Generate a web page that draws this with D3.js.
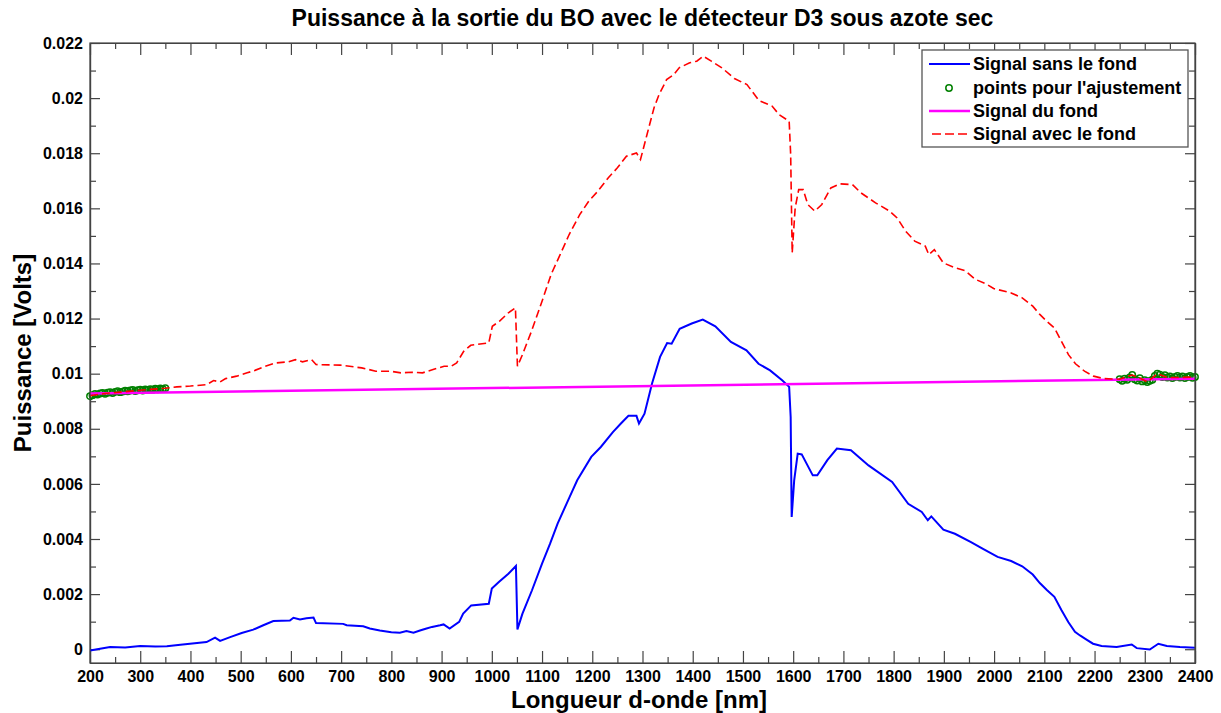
<!DOCTYPE html>
<html>
<head>
<meta charset="utf-8">
<script src="https://cdn.jsdelivr.net/npm/d3@7"></script>
<style>
  body { margin: 0; background: #fff; }
  text { font-family: "Liberation Sans", Arial, sans-serif; font-weight: bold; fill: #000; }
</style>
</head>
<body>
<div id="chart"></div>
<script>

// Data: [wavelength nm, power V]

let signalSansFond = [
  [200,-0.00005],[220,0.00002],[240,0.00008],[270,0.00006],[300,0.00012],[330,0.00010],[353,0.00011],
  [380,0.00016],[399,0.00020],[432,0.00026],[449,0.00042],[459,0.00030],[479,0.00044],[502,0.00059],
  [525,0.00071],[545,0.00087],[565,0.00102],[598,0.00104],[605,0.00114],[618,0.00108],[631,0.00112],
  [645,0.00115],[650,0.00095],[704,0.00092],[711,0.00087],[744,0.00083],[757,0.00075],[777,0.00068],
  [800,0.00062],[817,0.00060],[830,0.00066],[844,0.00060],[857,0.00068],[870,0.00075],[881,0.00081],
  [897,0.00087],[904,0.00090],[916,0.00075],[935,0.00099],[943,0.00129],[959,0.00159],[994,0.00165],
  [1000,0.00220],[1014,0.00244],[1033,0.00274],[1048,0.00302],[1051,0.00072],[1061,0.00129],
  [1080,0.00214],[1100,0.00311],[1116,0.00383],[1131,0.00456],[1155,0.00553],[1170,0.00613],
  [1198,0.00698],[1217,0.00734],[1241,0.00788],[1257,0.00819],[1272,0.00847],[1288,0.00847],
  [1293,0.00819],[1304,0.00855],[1319,0.00964],[1335,0.01061],[1349,0.01111],[1358,0.01109],
  [1374,0.01163],[1398,0.01182],[1420,0.01196],[1445,0.01172],[1476,0.01115],[1507,0.01085],
  [1531,0.01036],[1554,0.01012],[1578,0.00976],[1592,0.00952],[1595,0.00843],[1597,0.00480],
  [1602,0.00613],[1609,0.00710],[1617,0.00707],[1639,0.00631],[1648,0.00631],[1668,0.00686],
  [1687,0.00728],[1715,0.00722],[1750,0.00667],[1797,0.00607],[1829,0.00528],[1856,0.00498],
  [1868,0.00468],[1875,0.00482],[1899,0.00434],[1922,0.00419],[1954,0.00389],[1977,0.00365],
  [2007,0.00335],[2034,0.00320],[2056,0.00301],[2077,0.00271],[2091,0.00240],[2105,0.00215],
  [2120,0.00190],[2134,0.00142],[2148,0.00098],[2161,0.00063],[2171,0.00050],[2184,0.00035],
  [2197,0.00020],[2214,0.00012],[2244,0.00008],[2274,0.00017],[2284,0.00004],[2310,-0.00001],
  [2327,0.00020],[2344,0.00012],[2370,0.00008],[2400,0.00005]
];

let signalAvecFond = [
  [200,0.00920],[230,0.00928],[260,0.00933],[290,0.00938],[320,0.00943],[350,0.00947],[373,0.00952],
  [400,0.00955],[432,0.00960],[446,0.00975],[459,0.00970],[470,0.00982],[492,0.00991],[513,0.01003],
  [527,0.01011],[549,0.01027],[570,0.01039],[595,0.01043],[609,0.01051],[623,0.01043],[641,0.01051],
  [650,0.01033],[698,0.01031],[741,0.01021],[769,0.01009],[798,0.01009],[819,0.01003],[841,0.01005],
  [862,0.01003],[883,0.01015],[905,0.01027],[919,0.01027],[930,0.01039],[944,0.01081],[958,0.01103],
  [994,0.01112],[1001,0.01172],[1015,0.01190],[1033,0.01221],[1047,0.01239],[1051,0.01027],
  [1061,0.01069],[1079,0.01154],[1100,0.01263],[1118,0.01360],[1136,0.01432],[1154,0.01505],
  [1175,0.01577],[1193,0.01626],[1211,0.01662],[1232,0.01711],[1250,0.01747],[1268,0.01789],
  [1288,0.01801],[1296,0.01777],[1309,0.01868],[1323,0.01965],[1333,0.02013],[1348,0.02067],
  [1362,0.02085],[1373,0.02110],[1380,0.02116],[1394,0.02128],[1408,0.02134],[1421,0.02152],
  [1437,0.02134],[1458,0.02110],[1483,0.02071],[1508,0.02049],[1532,0.01991],[1558,0.01971],
  [1572,0.01940],[1592,0.01916],[1595,0.01795],[1598,0.01438],[1604,0.01602],[1611,0.01668],
  [1620,0.01668],[1629,0.01614],[1643,0.01590],[1657,0.01614],[1675,0.01674],[1693,0.01689],
  [1718,0.01686],[1735,0.01656],[1764,0.01620],[1792,0.01590],[1807,0.01565],[1824,0.01517],
  [1842,0.01481],[1863,0.01463],[1870,0.01432],[1881,0.01450],[1899,0.01402],[1920,0.01386],
  [1942,0.01374],[1963,0.01342],[1984,0.01326],[1999,0.01309],[2034,0.01293],[2056,0.01275],
  [2077,0.01245],[2091,0.01215],[2105,0.01190],[2120,0.01166],[2134,0.01118],[2148,0.01069],
  [2162,0.01036],[2180,0.01009],[2198,0.00991],[2219,0.00982],[2250,0.00980],[2275,0.00995],
  [2290,0.00984],[2305,0.00970],[2325,0.01000],[2345,0.00986],[2370,0.00986],[2400,0.00988]
];

// points used for the background fit (both ends of the spectrum)
let pointsAjustement = [
  [200,0.00918],[205,0.00922],[210,0.00926],[215,0.00924],[220,0.00928],[225,0.00930],[230,0.00927],
  [235,0.00931],[240,0.00933],[245,0.00930],[250,0.00934],[255,0.00936],[260,0.00933],[265,0.00935],
  [270,0.00938],[275,0.00936],[280,0.00939],[285,0.00941],[290,0.00937],[295,0.00940],[300,0.00942],
  [305,0.00939],[310,0.00943],[315,0.00941],[320,0.00944],[325,0.00942],[330,0.00945],[335,0.00943],
  [340,0.00946],[345,0.00944],[350,0.00947],
  [2250,0.00980],[2255,0.00974],[2260,0.00982],[2265,0.00978],[2270,0.00986],[2275,0.00995],
  [2280,0.00980],[2285,0.00975],[2290,0.00984],[2295,0.00972],[2300,0.00976],[2305,0.00970],
  [2310,0.00974],[2315,0.00978],[2320,0.00992],[2325,0.01000],[2330,0.00996],[2335,0.00988],
  [2340,0.00994],[2345,0.00986],[2350,0.00990],[2355,0.00984],[2360,0.00988],[2365,0.00992],
  [2370,0.00986],[2375,0.00990],[2380,0.00984],[2385,0.00988],[2390,0.00992],[2395,0.00985],
  [2400,0.00988]
];

let signalFond = [[200,0.00928],[2400,0.00982]];

let xTicks = [200,300,400,500,600,700,800,900,1000,1100,1200,1300,1400,1500,1600,1700,1800,1900,2000,2100,2200,2300,2400];
let yTicks = [0,0.002,0.004,0.006,0.008,0.01,0.012,0.014,0.016,0.018,0.02,0.022];
let yTickLabels = ["0","0.002","0.004","0.006","0.008","0.01","0.012","0.014","0.016","0.018","0.02","0.022"];
let xMinorTicks = d3.range(250, 2400, 100);
let yMinorTicks = d3.range(0.001, 0.022, 0.002);

let legendLabels = ["Signal sans le fond", "points pour l'ajustement", "Signal du fond", "Signal avec le fond"];

// SVG area
let svgWidth = 1221;
let svgHeight = 713;

let chartMargin = { top: 43, right: 26, bottom: 50, left: 90 };

let chartWidth = svgWidth - chartMargin.left - chartMargin.right;
let chartHeight = svgHeight - chartMargin.top - chartMargin.bottom;

let svg = d3.select("#chart")
  .append("svg")
  .attr("width", svgWidth)
  .attr("height", svgHeight);

let chartGroup = svg.append("g")
  .attr("transform", `translate(${chartMargin.left}, ${chartMargin.top})`);

// scales
let xScale = d3.scaleLinear().domain([200, 2400]).range([0, chartWidth]);
let yScale = d3.scaleLinear().domain([-0.0005, 0.022]).range([chartHeight, 0]);

// axes, ticks pointing inward (MATLAB box style)
let axisColor = "#444";

function styleAxis(g) {
  g.selectAll("path").attr("stroke", axisColor).attr("stroke-width", 1.2);
  g.selectAll("line").attr("stroke", axisColor).attr("stroke-width", 1.2);
  g.selectAll("text").attr("font-size", 16).style("fill", "#000");
}

chartGroup.append("g")
  .attr("transform", `translate(0, ${chartHeight})`)
  .call(d3.axisBottom(xScale).tickValues(xTicks).tickFormat(d3.format("d")).tickSize(-12).tickSizeOuter(0).tickPadding(8))
  .call(styleAxis);

chartGroup.append("g")
  .attr("transform", `translate(0, ${chartHeight})`)
  .call(d3.axisBottom(xScale).tickValues(xMinorTicks).tickFormat("").tickSize(-6).tickSizeOuter(0))
  .call(styleAxis);

chartGroup.append("g")
  .call(d3.axisTop(xScale).tickValues(xTicks).tickFormat("").tickSize(-12).tickSizeOuter(0))
  .call(styleAxis);

chartGroup.append("g")
  .call(d3.axisTop(xScale).tickValues(xMinorTicks).tickFormat("").tickSize(-6).tickSizeOuter(0))
  .call(styleAxis);

chartGroup.append("g")
  .call(d3.axisLeft(yScale).tickValues(yTicks).tickFormat((d, i) => yTickLabels[i]).tickSize(-10).tickSizeOuter(0).tickPadding(7))
  .call(styleAxis);

chartGroup.append("g")
  .call(d3.axisLeft(yScale).tickValues(yMinorTicks).tickFormat("").tickSize(-6).tickSizeOuter(0))
  .call(styleAxis);

chartGroup.append("g")
  .attr("transform", `translate(${chartWidth}, 0)`)
  .call(d3.axisRight(yScale).tickValues(yTicks).tickFormat("").tickSize(-10).tickSizeOuter(0))
  .call(styleAxis);

chartGroup.append("g")
  .attr("transform", `translate(${chartWidth}, 0)`)
  .call(d3.axisRight(yScale).tickValues(yMinorTicks).tickFormat("").tickSize(-6).tickSizeOuter(0))
  .call(styleAxis);

// clip for the curves
chartGroup.append("clipPath")
  .attr("id", "plotClip")
  .append("rect")
  .attr("x", -5).attr("y", 0)
  .attr("width", chartWidth + 10).attr("height", chartHeight);

let plotArea = chartGroup.append("g").attr("clip-path", "url(#plotClip)");

let line = d3.line()
  .x(d => xScale(d[0]))
  .y(d => yScale(d[1]));

// blue: signal without background
plotArea.append("path")
  .datum(signalSansFond)
  .attr("d", line)
  .attr("fill", "none")
  .attr("stroke", "#0000ff")
  .attr("stroke-width", 2);

// green circles: fit points
plotArea.append("g")
  .selectAll("circle")
  .data(pointsAjustement)
  .enter()
  .append("circle")
  .attr("cx", d => xScale(d[0]))
  .attr("cy", d => yScale(d[1]))
  .attr("r", 3.2)
  .attr("fill", "none")
  .attr("stroke", "#008000")
  .attr("stroke-width", 1.5);

// magenta: background
plotArea.append("path")
  .datum(signalFond)
  .attr("d", line)
  .attr("fill", "none")
  .attr("stroke", "#ff00ff")
  .attr("stroke-width", 2.5);

// red dashed: signal with background
plotArea.append("path")
  .datum(signalAvecFond)
  .attr("d", line)
  .attr("fill", "none")
  .attr("stroke", "#ff0000")
  .attr("stroke-width", 1.6)
  .attr("stroke-dasharray", "8,4");

// frame on top of everything
chartGroup.append("rect")
  .attr("width", chartWidth)
  .attr("height", chartHeight)
  .attr("fill", "none")
  .attr("stroke", axisColor)
  .attr("stroke-width", 1.2);

// titles
svg.append("text")
  .attr("x", chartMargin.left + chartWidth / 2)
  .attr("y", 26)
  .attr("text-anchor", "middle")
  .attr("font-size", 23)
  .text("Puissance à la sortie du BO avec le détecteur D3 sous azote sec");

svg.append("text")
  .attr("x", 639)
  .attr("y", 708)
  .attr("text-anchor", "middle")
  .attr("font-size", 24)
  .text("Longueur d-onde [nm]");

svg.append("text")
  .attr("transform", `translate(31, 353) rotate(-90)`)
  .attr("text-anchor", "middle")
  .attr("font-size", 24)
  .text("Puissance [Volts]");

// legend
let legend = svg.append("g").attr("transform", "translate(922, 50)");

legend.append("rect")
  .attr("width", 266)
  .attr("height", 97)
  .attr("fill", "#fff")
  .attr("stroke", "#555")
  .attr("stroke-width", 1.3);

let rowY = [14, 38, 61, 84];

legend.append("line")
  .attr("x1", 7).attr("x2", 48).attr("y1", rowY[0]).attr("y2", rowY[0])
  .attr("stroke", "#0000ff").attr("stroke-width", 2);

legend.append("circle")
  .attr("cx", 27).attr("cy", rowY[1]).attr("r", 3.2)
  .attr("fill", "none").attr("stroke", "#008000").attr("stroke-width", 1.5);

legend.append("line")
  .attr("x1", 7).attr("x2", 48).attr("y1", rowY[2]).attr("y2", rowY[2])
  .attr("stroke", "#ff00ff").attr("stroke-width", 2.5);

legend.append("line")
  .attr("x1", 10).attr("x2", 48).attr("y1", rowY[3]).attr("y2", rowY[3])
  .attr("stroke", "#ff0000").attr("stroke-width", 1.6).attr("stroke-dasharray", "9,4");

legend.selectAll(".legendText")
  .data(legendLabels)
  .enter()
  .append("text")
  .attr("class", "legendText")
  .attr("x", 51)
  .attr("y", (d, i) => rowY[i])
  .attr("dy", "0.35em")
  .attr("font-size", 18)
  .text(d => d);

</script>
</body>
</html>
